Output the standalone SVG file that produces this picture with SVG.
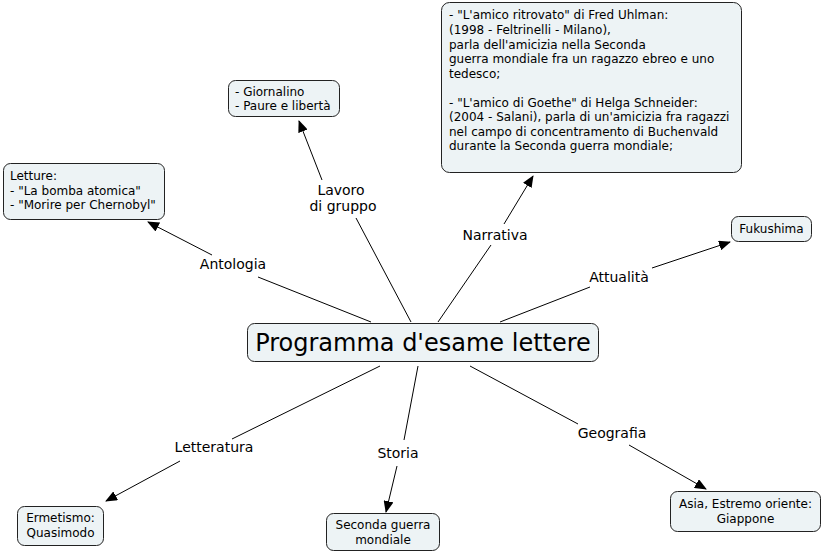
<svg xmlns="http://www.w3.org/2000/svg" width="824" height="554" viewBox="0 0 824 554">
<style>
.box{fill:#edf3f5;stroke:#222;stroke-width:1}
.t{font-family:"DejaVu Sans",Verdana,sans-serif;font-size:12px;fill:#000}
.lbl{font-family:"DejaVu Sans",Verdana,sans-serif;font-size:14px;fill:#000;text-anchor:middle}
.c{stroke:#000;stroke-width:1;fill:none}
</style>
<defs>
<marker id="ah" markerWidth="12" markerHeight="10" refX="11" refY="5" orient="auto" markerUnits="userSpaceOnUse">
<path d="M0,0 L12,5 L0,10 Z" fill="#000"/>
</marker>
</defs>
<rect width="824" height="554" fill="#fff"/>
<g id="connectors">
<line class="c" x1="371" y1="322" x2="258" y2="277"/>
<line class="c" x1="212" y1="255" x2="148" y2="222" marker-end="url(#ah)"/>
<text class="lbl" x="233" y="269">Antologia</text>
<line class="c" x1="411" y1="322" x2="356" y2="218"/>
<line class="c" x1="322" y1="180" x2="299" y2="121" marker-end="url(#ah)"/>
<text class="lbl" x="341" y="195">Lavoro</text>
<text class="lbl" x="343" y="211">di gruppo</text>
<line class="c" x1="438" y1="322" x2="491" y2="245"/>
<line class="c" x1="504" y1="224" x2="533" y2="176" marker-end="url(#ah)"/>
<text class="lbl" x="495" y="240">Narrativa</text>
<line class="c" x1="500" y1="322" x2="590" y2="287"/>
<line class="c" x1="652" y1="268" x2="730" y2="242" marker-end="url(#ah)"/>
<text class="lbl" x="619" y="282">Attualità</text>
<line class="c" x1="380" y1="366" x2="232" y2="439"/>
<line class="c" x1="180" y1="461" x2="106" y2="501" marker-end="url(#ah)"/>
<text class="lbl" x="214" y="452">Letteratura</text>
<line class="c" x1="418" y1="366" x2="404" y2="440"/>
<line class="c" x1="397" y1="466" x2="386" y2="512" marker-end="url(#ah)"/>
<text class="lbl" x="398" y="458">Storia</text>
<line class="c" x1="470" y1="366" x2="578" y2="424"/>
<line class="c" x1="629" y1="445" x2="706" y2="489" marker-end="url(#ah)"/>
<text class="lbl" x="612" y="438">Geografia</text>
</g>
<g id="main">
<rect class="box" x="247.5" y="323.5" width="351" height="38" rx="7"/>
<text x="423" y="351" font-family="DejaVu Sans, Verdana, sans-serif" font-size="24" text-anchor="middle">Programma d'esame lettere</text>
</g>
<g id="narrativa">
<rect class="box" x="441.5" y="2.5" width="300" height="170" rx="8"/>
<text class="t" x="449" y="19">- "L'amico ritrovato" di Fred Uhlman:</text>
<text class="t" x="449" y="34">(1998 - Feltrinelli - Milano),</text>
<text class="t" x="449" y="49">parla dell'amicizia nella Seconda</text>
<text class="t" x="449" y="63">guerra mondiale fra un ragazzo ebreo e uno</text>
<text class="t" x="449" y="78">tedesco;</text>
<text class="t" x="449" y="107">- "L'amico di Goethe" di Helga Schneider:</text>
<text class="t" x="449" y="121">(2004 - Salani), parla di un'amicizia fra ragazzi</text>
<text class="t" x="449" y="136">nel campo di concentramento di Buchenvald</text>
<text class="t" x="449" y="150">durante la Seconda guerra mondiale;</text>
</g>
<g id="lavoro">
<rect class="box" x="228.5" y="80.5" width="111" height="36" rx="7"/>
<text class="t" x="235" y="96">- Giornalino</text>
<text class="t" x="235" y="110">- Paure e libertà</text>
</g>
<g id="antologia">
<rect class="box" x="3.5" y="163.5" width="161" height="56" rx="7"/>
<text class="t" x="10" y="180">Letture:</text>
<text class="t" x="10" y="195">- "La bomba atomica"</text>
<text class="t" x="10" y="209">- "Morire per Chernobyl"</text>
</g>
<g id="fukushima">
<rect class="box" x="731.5" y="216.5" width="80" height="25" rx="7"/>
<text class="t" x="771.5" y="233" text-anchor="middle">Fukushima</text>
</g>
<g id="ermetismo">
<rect class="box" x="17.5" y="506.5" width="86" height="39" rx="7"/>
<text class="t" x="60.5" y="522" text-anchor="middle">Ermetismo:</text>
<text class="t" x="60.5" y="537" text-anchor="middle">Quasimodo</text>
</g>
<g id="storia">
<rect class="box" x="326.5" y="513.5" width="113" height="37" rx="7"/>
<text class="t" x="383" y="529" text-anchor="middle">Seconda guerra</text>
<text class="t" x="383" y="544" text-anchor="middle">mondiale</text>
</g>
<g id="geografia">
<rect class="box" x="670.5" y="491.5" width="150" height="40" rx="7"/>
<text class="t" x="745.5" y="508" text-anchor="middle">Asia, Estremo oriente:</text>
<text class="t" x="745.5" y="523" text-anchor="middle">Giappone</text>
</g>
</svg>
